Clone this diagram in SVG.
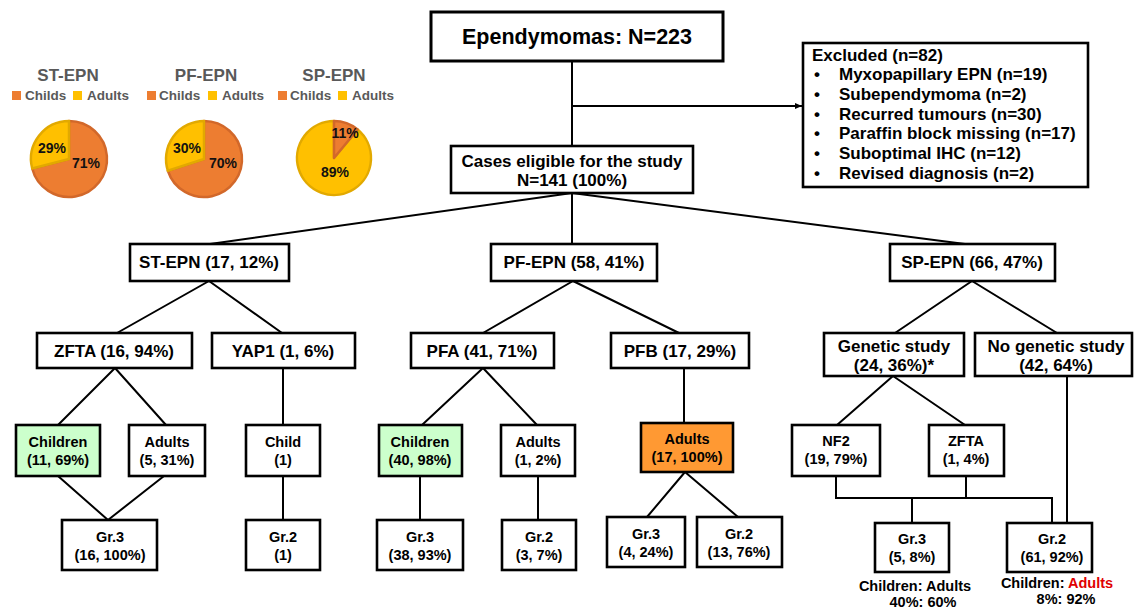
<svg xmlns="http://www.w3.org/2000/svg" width="1135" height="611" viewBox="0 0 1135 611">
<style>
.bx{fill:#fff;stroke:#000;stroke-width:2.6}
.gr{fill:#ccffcc;stroke:#000;stroke-width:2.6}
.or{fill:#ff9933;stroke:#000;stroke-width:2.6}
.t{font-family:"Liberation Sans",Arial,sans-serif;font-weight:bold;fill:#000}
.m{text-anchor:middle}
.f17{font-size:17px}
.f14{font-size:14.5px}
.c{stroke:#000;stroke-width:2;fill:none}
.ttl{font-family:"Liberation Sans",Arial,sans-serif;font-weight:bold;font-size:17px;fill:#595959;text-anchor:middle}
.lg{font-family:"Liberation Sans",Arial,sans-serif;font-weight:bold;font-size:13.5px;fill:#595959}
.pc{font-family:"Liberation Sans",Arial,sans-serif;font-weight:bold;font-size:14px;fill:#111;text-anchor:middle}
.po{fill:#ed7d31;stroke:#d2682a;stroke-width:2.5;stroke-linejoin:round}
.py{fill:#ffc000;stroke:#e2a900;stroke-width:2.5;stroke-linejoin:round}
</style>
<defs>
<marker id="arr" markerWidth="8" markerHeight="8" refX="7" refY="4" orient="auto" markerUnits="userSpaceOnUse">
<path d="M0,1 L7,4 L0,7 Z" fill="#000"/>
</marker>
</defs>

<g id="charts">
<g id="pie-st">
<text class="ttl" x="68" y="81">ST-EPN</text>
<rect x="12" y="91" width="9" height="9" fill="#ed7d31"/>
<text class="lg" x="25" y="100">Childs</text>
<rect x="73" y="91" width="9" height="9" fill="#ffc000"/>
<text class="lg" x="87" y="100">Adults</text>
<path class="po" d="M69,159 L69,121 A38,38 0 1 1 32.2,168.45 Z"/>
<path class="py" d="M69,159 L32.2,168.45 A38,38 0 0 1 69,121 Z"/>
<text class="pc" x="52" y="153">29%</text>
<text class="pc" x="86" y="168">71%</text>
</g>
<g id="pie-pf">
<text class="ttl" x="206" y="81">PF-EPN</text>
<rect x="147" y="91" width="9" height="9" fill="#ed7d31"/>
<text class="lg" x="159" y="100">Childs</text>
<rect x="208" y="91" width="9" height="9" fill="#ffc000"/>
<text class="lg" x="222" y="100">Adults</text>
<path class="po" d="M204,159 L204,121 A38,38 0 1 1 167.86,170.74 Z"/>
<path class="py" d="M204,159 L167.86,170.74 A38,38 0 0 1 204,121 Z"/>
<text class="pc" x="187" y="153">30%</text>
<text class="pc" x="223" y="168">70%</text>
</g>
<g id="pie-sp">
<text class="ttl" x="334" y="81">SP-EPN</text>
<rect x="278" y="91" width="9" height="9" fill="#ed7d31"/>
<text class="lg" x="290" y="100">Childs</text>
<rect x="338" y="91" width="9" height="9" fill="#ffc000"/>
<text class="lg" x="352" y="100">Adults</text>
<path class="py" d="M334,158 L357.6,129.5 A37,37 0 1 1 334,121 Z"/>
<path class="po" d="M334,158 L334,121 A37,37 0 0 1 357.6,129.5 Z"/>
<text class="pc" x="345" y="138">11%</text>
<text class="pc" x="335" y="177">89%</text>
</g>
</g>

<g id="connectors">
<path class="c" d="M572,61 V146"/>
<path class="c" d="M572,106 H802" marker-end="url(#arr)"/>
<path class="c" d="M572,193 L210,244 M572,193 V244 M572,193 L965,244"/>
<path class="c" d="M209,281 L117,333 M209,281 L282,333"/>
<path class="c" d="M573,281 L483,333 M573,281 L679,333"/>
<path class="c" d="M972,281 L895,333 M972,281 L1057,333"/>
<path class="c" d="M115,368 L58,425 M115,368 L166,425"/>
<path class="c" d="M283,368 V425"/>
<path class="c" d="M483,368 L422,425 M483,368 L537,425"/>
<path class="c" d="M684,368 V423"/>
<path class="c" d="M893,376 L837,425 M893,376 L965,425"/>
<path class="c" d="M1067,376 V523"/>
<path class="c" d="M58,476 L108,520 M164,476 L108,520"/>
<path class="c" d="M283,476 V520"/>
<path class="c" d="M420,476 V520"/>
<path class="c" d="M538,476 V520"/>
<path class="c" d="M685,472 L647,517 M685,472 L738,517"/>
<path class="c" d="M836,476 V498 H1052 V523 M966,476 V498 M912,498 V523"/>
</g>

<g id="n-top">
<rect class="bx" x="431" y="12" width="292" height="49" style="stroke-width:3"/>
<text class="t m" x="577" y="44" style="font-size:21.5px">Ependymomas: N=223</text>
</g>
<g id="n-excluded">
<rect class="bx" x="803" y="43" width="285" height="144"/>
<text class="t f17" x="812" y="61">Excluded (n=82)</text>
<g class="t f17">
<text x="814" y="80">•</text><text x="839" y="80">Myxopapillary EPN (n=19)</text>
<text x="814" y="100">•</text><text x="839" y="100">Subependymoma (n=2)</text>
<text x="814" y="120">•</text><text x="839" y="120">Recurred tumours (n=30)</text>
<text x="814" y="139">•</text><text x="839" y="139">Paraffin block missing (n=17)</text>
<text x="814" y="159">•</text><text x="839" y="159">Suboptimal IHC (n=12)</text>
<text x="814" y="179">•</text><text x="839" y="179">Revised diagnosis (n=2)</text>
</g>
</g>
<g id="n-cases">
<rect class="bx" x="451" y="146" width="242" height="47"/>
<text class="t m f17" x="572" y="167">Cases eligible for the study</text>
<text class="t m f17" x="572" y="186">N=141 (100%)</text>
</g>

<g id="n-st"><rect class="bx" x="130" y="244" width="159" height="37"/><text class="t m f17" x="209" y="268">ST-EPN (17, 12%)</text></g>
<g id="n-pf"><rect class="bx" x="491" y="244" width="166" height="37"/><text class="t m f17" x="574" y="268">PF-EPN (58, 41%)</text></g>
<g id="n-sp"><rect class="bx" x="890" y="244" width="165" height="37"/><text class="t m f17" x="972" y="268">SP-EPN (66, 47%)</text></g>

<g id="n-zfta"><rect class="bx" x="37" y="333" width="155" height="35"/><text class="t m f17" x="114" y="357">ZFTA (16, 94%)</text></g>
<g id="n-yap1"><rect class="bx" x="212" y="333" width="143" height="35"/><text class="t m f17" x="283" y="357">YAP1 (1, 6%)</text></g>
<g id="n-pfa"><rect class="bx" x="411" y="333" width="143" height="35"/><text class="t m f17" x="482" y="357">PFA (41, 71%)</text></g>
<g id="n-pfb"><rect class="bx" x="611" y="333" width="138" height="35"/><text class="t m f17" x="680" y="357">PFB (17, 29%)</text></g>
<g id="n-gen"><rect class="bx" x="824" y="333" width="140" height="43"/><text class="t m f17" x="894" y="352">Genetic study</text><text class="t m f17" x="894" y="371">(24, 36%)*</text></g>
<g id="n-nogen"><rect class="bx" x="975" y="333" width="157" height="43"/><text class="t m f17" x="1056" y="352">No genetic study</text><text class="t m f17" x="1056" y="371">(42, 64%)</text></g>

<g id="n-st-ch"><rect class="gr" x="16" y="425" width="84" height="51"/><text class="t m f14" x="58" y="447">Children</text><text class="t m f14" x="58" y="465">(11, 69%)</text></g>
<g id="n-st-ad"><rect class="bx" x="129" y="425" width="76" height="51"/><text class="t m f14" x="167" y="447">Adults</text><text class="t m f14" x="167" y="465">(5, 31%)</text></g>
<g id="n-yap-ch"><rect class="bx" x="246" y="425" width="74" height="51"/><text class="t m f14" x="283" y="447">Child</text><text class="t m f14" x="283" y="465">(1)</text></g>
<g id="n-pfa-ch"><rect class="gr" x="379" y="425" width="83" height="51"/><text class="t m f14" x="420" y="447">Children</text><text class="t m f14" x="420" y="465">(40, 98%)</text></g>
<g id="n-pfa-ad"><rect class="bx" x="501" y="425" width="74" height="51"/><text class="t m f14" x="538" y="447">Adults</text><text class="t m f14" x="538" y="465">(1, 2%)</text></g>
<g id="n-pfb-ad"><rect class="or" x="641" y="423" width="92" height="49"/><text class="t m f14" x="687" y="444">Adults</text><text class="t m f14" x="687" y="462">(17, 100%)</text></g>
<g id="n-nf2"><rect class="bx" x="792" y="425" width="88" height="51"/><text class="t m f14" x="836" y="446">NF2</text><text class="t m f14" x="836" y="464">(19, 79%)</text></g>
<g id="n-sp-zfta"><rect class="bx" x="929" y="425" width="75" height="51"/><text class="t m f14" x="966" y="446">ZFTA</text><text class="t m f14" x="966" y="464">(1, 4%)</text></g>

<g id="n-st-g3"><rect class="bx" x="62" y="520" width="95" height="50"/><text class="t m f14" x="110" y="542">Gr.3</text><text class="t m f14" x="110" y="560">(16, 100%)</text></g>
<g id="n-yap-g2"><rect class="bx" x="246" y="520" width="74" height="50"/><text class="t m f14" x="283" y="542">Gr.2</text><text class="t m f14" x="283" y="560">(1)</text></g>
<g id="n-pfa-g3"><rect class="bx" x="377" y="520" width="86" height="50"/><text class="t m f14" x="420" y="542">Gr.3</text><text class="t m f14" x="420" y="560">(38, 93%)</text></g>
<g id="n-pfa-g2"><rect class="bx" x="502" y="520" width="74" height="50"/><text class="t m f14" x="539" y="542">Gr.2</text><text class="t m f14" x="539" y="560">(3, 7%)</text></g>
<g id="n-pfb-g3"><rect class="bx" x="607" y="517" width="78" height="50"/><text class="t m f14" x="646" y="539">Gr.3</text><text class="t m f14" x="646" y="557">(4, 24%)</text></g>
<g id="n-pfb-g2"><rect class="bx" x="697" y="517" width="85" height="50"/><text class="t m f14" x="739" y="539">Gr.2</text><text class="t m f14" x="739" y="557">(13, 76%)</text></g>
<g id="n-sp-g3"><rect class="bx" x="875" y="523" width="74" height="49"/><text class="t m f14" x="912" y="544">Gr.3</text><text class="t m f14" x="912" y="562">(5, 8%)</text>
<text class="t m f14" x="915" y="591">Children: Adults</text><text class="t m f14" x="923" y="607">40%: 60%</text></g>
<g id="n-sp-g2"><rect class="bx" x="1007" y="523" width="85" height="49"/><text class="t m f14" x="1052" y="544">Gr.2</text><text class="t m f14" x="1052" y="562">(61, 92%)</text>
<text class="t m f14" x="1057" y="588">Children: <tspan fill="#e00000">Adults</tspan></text><text class="t m f14" x="1066" y="604">8%: 92%</text></g>
</svg>
